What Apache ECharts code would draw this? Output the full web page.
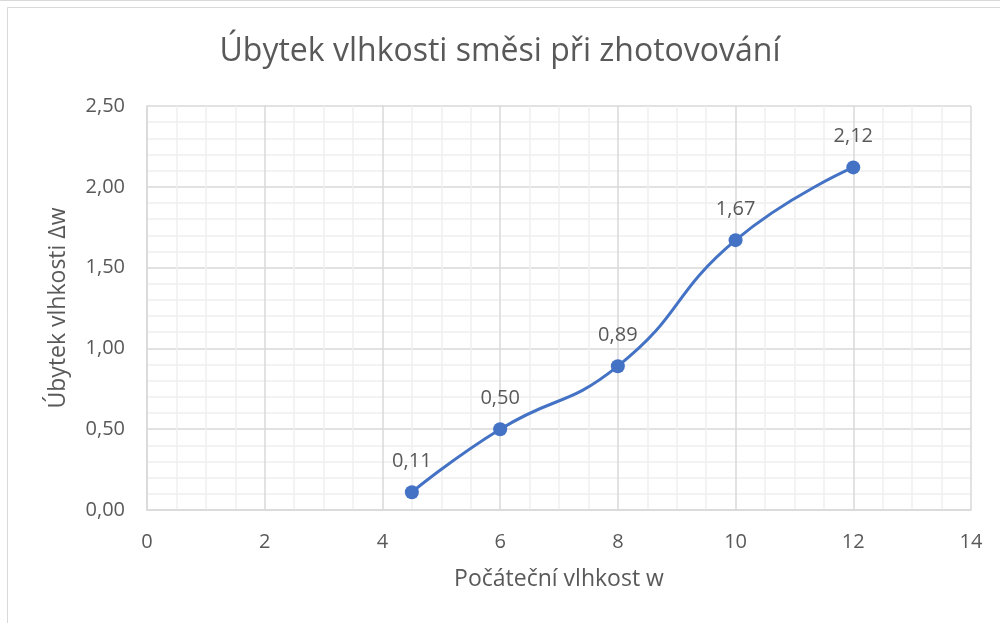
<!DOCTYPE html>
<html>
<head>
<meta charset="utf-8">
<script src="https://cdn.jsdelivr.net/npm/echarts@6/dist/echarts.min.js"></script>
<style>
  html, body { margin: 0; padding: 0; background: #fff; }
  #chart { width: 1000px; height: 623px; }
</style>
</head>
<body>
<div id="chart"></div>
<script>
// data
var moistureStart = [4.5, 6, 8, 10, 12];
var moistureLoss = [0.11, 0.50, 0.89, 1.67, 2.12];

var textColor = '#595959';
var fontName = '"Open Sans", "Noto Sans", sans-serif';

function comma(v) {
  return v.toFixed(2).replace('.', ',');
}

var points = [];
for (var i = 0; i < moistureStart.length; i++) {
  points.push([moistureStart[i], moistureLoss[i]]);
}

var myChart = echarts.init(document.getElementById('chart'));
var option = {
  animation: false,
  backgroundColor: '#fff',
  textStyle: { fontFamily: fontName },
  title: {
    text: 'Úbytek vlhkosti směsi při zhotovování',
    left: 'center',
    top: 31,
    textStyle: { color: textColor, fontSize: 32, fontWeight: 'normal', fontFamily: fontName }
  },
  graphic: [
    { type: 'line', shape: { x1: 0, y1: 0.5, x2: 1000, y2: 0.5 }, style: { stroke: '#d9d9d9', lineWidth: 1 } },
    { type: 'rect', shape: { x: 7.5, y: 7.5, width: 1100, height: 700 }, style: { fill: 'none', stroke: '#d9d9d9', lineWidth: 1 } }
  ],
  grid: { left: 147, right: 29, top: 106, bottom: 113 },
  xAxis: {
    type: 'value',
    min: 0,
    max: 14,
    interval: 2,
    name: 'Počáteční vlhkost w',
    nameLocation: 'middle',
    nameGap: 58,
    nameTextStyle: { color: textColor, fontSize: 23 },
    axisLine: { show: true, lineStyle: { color: '#d9d9d9', width: 1.5 } },
    axisTick: { show: false },
    axisLabel: { color: textColor, fontSize: 20, margin: 22 },
    splitLine: { show: true, lineStyle: { color: '#d9d9d9', width: 1.5 } },
    minorTick: { show: false, splitNumber: 4 },
    minorSplitLine: { show: true, lineStyle: { color: '#efefef', width: 1.5 } }
  },
  yAxis: {
    type: 'value',
    min: 0,
    max: 2.5,
    interval: 0.5,
    name: 'Úbytek vlhkosti Δw',
    nameLocation: 'middle',
    nameGap: 77,
    nameTextStyle: { color: textColor, fontSize: 23 },
    axisLine: { show: true, lineStyle: { color: '#d9d9d9', width: 1.5 } },
    axisTick: { show: false },
    axisLabel: { color: textColor, fontSize: 20, margin: 22, formatter: comma },
    splitLine: { show: true, lineStyle: { color: '#d9d9d9', width: 1.5 } },
    minorTick: { show: false, splitNumber: 5 },
    minorSplitLine: { show: true, lineStyle: { color: '#efefef', width: 1.5 } }
  },
  series: [{
    type: 'line',
    data: points,
    smooth: 0.5,
    symbol: 'circle',
    symbolSize: 14,
    lineStyle: { color: '#4472c4', width: 3 },
    itemStyle: { color: '#4472c4' },
    label: {
      show: true,
      position: 'top',
      distance: 14,
      color: textColor,
      fontSize: 20,
      formatter: function (p) { return comma(p.value[1]); }
    }
  }]
};
myChart.setOption(option);
</script>
</body>
</html>
